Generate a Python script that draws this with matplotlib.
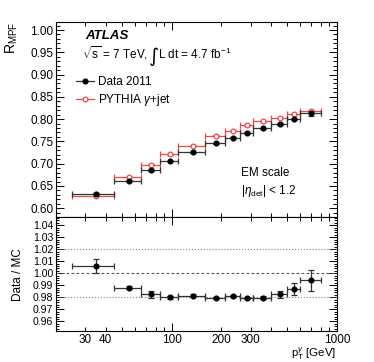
import matplotlib
matplotlib.use("Agg")
import matplotlib.pyplot as plt
from matplotlib.lines import Line2D
from matplotlib.ticker import FormatStrFormatter, MultipleLocator
import numpy as np

plt.rcParams['font.family'] = ['Liberation Sans', 'DejaVu Sans']
plt.rcParams['mathtext.fontset'] = 'custom'
plt.rcParams['mathtext.rm'] = 'Liberation Sans'
plt.rcParams['mathtext.it'] = 'Liberation Sans:italic'
plt.rcParams['mathtext.bf'] = 'Liberation Sans:bold'

# pT bins (GeV)
bin_lo = np.array([25, 45, 65, 85, 110, 160, 210, 260, 310, 400, 500, 600])
bin_hi = np.array([45, 65, 85, 110, 160, 210, 260, 310, 400, 500, 600, 800])
pt = np.array([35, 55, 75, 97.5, 135, 185, 235, 285, 355, 450, 550, 700])

r_data = np.array([0.6315, 0.662, 0.6854, 0.706, 0.726, 0.746, 0.758, 0.769, 0.779, 0.789, 0.800, 0.8128])
r_data_err = np.array([0.003, 0.001, 0.0015, 0.001, 0.001, 0.001, 0.001, 0.001, 0.001, 0.002, 0.003, 0.005])
r_mc = np.array([0.6276, 0.670, 0.698, 0.721, 0.740, 0.7625, 0.774, 0.7865, 0.7955, 0.8025, 0.811, 0.8187])
r_mc_err = np.array([0.001, 0.001, 0.001, 0.001, 0.001, 0.001, 0.001, 0.001, 0.001, 0.001, 0.001, 0.001])

ratio = np.array([1.0061, 0.9881, 0.9826, 0.9800, 0.9815, 0.9793, 0.9812, 0.9796, 0.9798, 0.9826, 0.9868, 0.9942])
ratio_err = np.array([0.0055, 0.001, 0.003, 0.001, 0.001, 0.001, 0.001, 0.001, 0.001, 0.003, 0.0052, 0.0086])

xerr = [pt - bin_lo, bin_hi - pt]
red = '#f04848'
ms = 3.4

W, H = 374, 362
fig = plt.figure(figsize=(W / 100, H / 100), dpi=100)
L, R = 56, 337
ax1 = fig.add_axes([L / W, 1 - 216.7 / H, (R - L) / W, (216.7 - 22) / H])
ax2 = fig.add_axes([L / W, 1 - 331 / H, (R - L) / W, (331 - 216.7) / H])

# upper panel
ax1.errorbar(pt, r_mc, xerr=xerr, yerr=r_mc_err, fmt='o', mfc='white', mec=red,
             ecolor=red, ms=ms, mew=0.9, elinewidth=0.9, capsize=2, capthick=0.9)
ax1.errorbar(pt, r_data, xerr=xerr, yerr=r_data_err, fmt='o', color='black',
             ecolor='#333333', ms=ms, elinewidth=0.9, capsize=2, capthick=0.9)

# lower panel
ax2.axhline(1.02, color='grey', ls=':', lw=0.8)
ax2.axhline(1.00, color='#555555', ls='--', lw=0.8, dashes=(2.5, 2))
ax2.axhline(0.98, color='grey', ls=':', lw=0.8)
ax2.errorbar(pt, ratio, xerr=xerr, yerr=ratio_err, fmt='o', color='black',
             ecolor='#333333', ms=ms, elinewidth=0.9, capsize=2, capthick=0.9)

major_x = [100, 1000]
minor_x = [20, 30, 40, 50, 60, 70, 80, 90, 200, 300, 400, 500, 600, 700, 800, 900]
minor_lab = [str(v) if v in (30, 40, 200, 300) else '' for v in minor_x]

for ax in (ax1, ax2):
    ax.set_xscale('log')
    ax.set_xlim(20, 1000)
    ax.set_xticks(major_x, ['100', '1000'])
    ax.set_xticks(minor_x, minor_lab, minor=True)
    ax.tick_params(which='both', direction='in', top=True, right=True, width=0.7)
    ax.tick_params(which='major', length=5.5)
    ax.tick_params(which='minor', length=3)
    for s in ax.spines.values():
        s.set_linewidth(0.8)

ax1.set_ylim(0.581, 1.018)
ax1.yaxis.set_major_locator(MultipleLocator(0.05))
ax1.yaxis.set_minor_locator(MultipleLocator(0.01))
ax1.yaxis.set_major_formatter(FormatStrFormatter('%.2f'))
ax1.tick_params(axis='x', which='both', labelbottom=False)
ax1.tick_params(axis='y', labelsize=8.5, pad=2)

ax2.set_ylim(0.952, 1.047)
ax2.yaxis.set_major_locator(MultipleLocator(0.01))
ax2.yaxis.set_minor_locator(MultipleLocator(0.002))
ax2.yaxis.set_major_formatter(FormatStrFormatter('%.2f'))
ax2.tick_params(axis='y', labelsize=7.6, pad=2)
ax2.tick_params(axis='x', which='both', labelsize=8.5, pad=2.2)
ax2.tick_params(axis='y', which='minor', length=2.5)

# labels
fig.text(12 / W, 1 - 22 / H, r'R$_{\mathrm{MPF}}$', rotation=90, ha='center', va='top', fontsize=10)
fig.text(18 / W, 1 - 275 / H, 'Data / MC', rotation=90, ha='center', va='center', fontsize=8.5)
fig.text(336 / W, 0.2 / H, r'p$_{\mathrm{T}}^{\gamma}$ [GeV]', ha='right', va='bottom', fontsize=8.2)

fig.text(85 / W, 1 - 36 / H, 'ATLAS', fontsize=9.5, fontweight='bold', fontstyle='italic', va='center')

# sqrt(s) line, integral drawn bigger like the ROOT one
fig.canvas.draw()
rend = fig.canvas.get_renderer()
y_line = 1 - 59 / H
t1 = fig.text(82 / W, y_line, r'$\sqrt{\mathrm{s}}$ = 7 TeV,', fontsize=8.5, va='baseline')
x1 = t1.get_window_extent(rend).x1
t2 = fig.text((x1 + 0.5) / W, 1 - 47 / H, '\u222b', fontsize=14, va='top', family='DejaVu Sans')
x2 = t2.get_window_extent(rend).x1
fig.text((x2 - 0.5) / W, y_line, r'L dt = 4.7 fb$^{-1}$', fontsize=8.5, va='baseline')

fig.text(241 / W, 1 - 173 / H, 'EM scale', fontsize=8.5, va='center')
fig.text(241 / W, 1 - 191 / H, r'|$\eta_{\mathrm{det}}$| < 1.2', fontsize=8.5, va='center')

handles = [Line2D([], [], color='#333333', lw=0.9, marker='o', ms=ms, mfc='black', mec='black'),
           Line2D([], [], color=red, lw=0.9, marker='o', ms=ms, mfc='white', mec=red, mew=0.9)]
fig.legend(handles, ['Data 2011', 'PYTHIA $\\gamma$+jet'], loc='upper left',
           bbox_to_anchor=(76 / W, 1 - 76 / H), frameon=False, fontsize=8.5,
           handlelength=1.5, handletextpad=0.4, borderpad=0, borderaxespad=0, labelspacing=0.35)

fig.savefig('out.png', dpi=100)
